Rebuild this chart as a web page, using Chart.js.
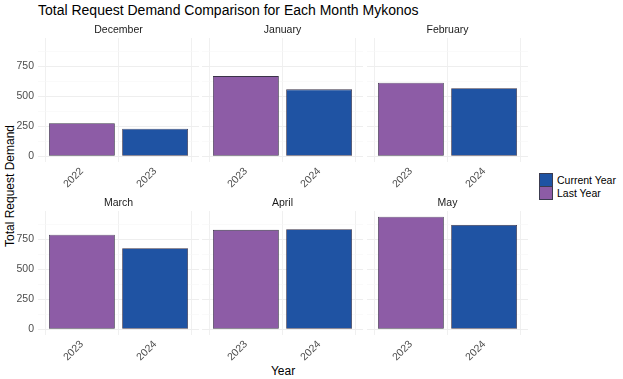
<!DOCTYPE html>
<html>
<head>
<meta charset="utf-8">
<script src="https://cdn.jsdelivr.net/npm/chart.js@4.4.1/dist/chart.umd.min.js"></script>
<style>
  body {
    margin: 0;
    width: 623px;
    height: 379px;
    overflow: hidden;
    position: relative;
    background: #fff;
    font-family: "Liberation Sans", Arial, sans-serif;
  }
  canvas { position: absolute; }
  #title {
    position: absolute;
    left: 38px;
    top: 2px;
    font-size: 14px;
    color: #000;
    white-space: nowrap;
  }
  #ytitle {
    position: absolute;
    left: 9.5px;
    top: 186px;
    transform: translate(-50%, -50%) rotate(-90deg);
    font-size: 12px;
    white-space: nowrap;
  }
  #xtitle {
    position: absolute;
    left: 283px;
    top: 371px;
    transform: translate(-50%, -50%);
    font-size: 12px;
  }
  #legend {
    position: absolute;
    left: 539px;
    top: 173px;
    font-size: 10.5px;
    color: #000;
  }
  .item { display: flex; align-items: center; height: 13px; }
  .key { width: 12px; height: 12px; border: 0.5px solid #3c3c50; margin-right: 4px; }
</style>
</head>
<body>
<div id="title">Total Request Demand Comparison for Each Month Mykonos</div>
<div id="ytitle">Total Request Demand</div>
<div id="xtitle">Year</div>
<div id="legend"></div>
<script>
// values
const months = ["December", "January", "February", "March", "April", "May"]
const lastYearLabels = ["2022", "2023", "2023", "2023", "2023", "2023"]
const currentYearLabels = ["2023", "2024", "2024", "2024", "2024", "2024"]
const lastYearDemand = [276, 667, 612, 786, 827, 937]
const currentYearDemand = [229, 557, 566, 675, 832, 868]
const yTicks = [0, 250, 500, 750]
const legendNames = ["Current Year", "Last Year"]

const LAST_COLOR = "#8d5ca6"
const CURRENT_COLOR = "#1f53a3"
const FONT = "'Liberation Sans', Arial, sans-serif"

// facet grid geometry
const panelLeft = [38, 202, 367]
const rowTop = [20, 193]
const panelWidth = 161

const maxValue = Math.max(...lastYearDemand, ...currentYearDemand)
const yMin = -0.05 * maxValue
const yMax = 1.05 * maxValue
const gridTicks = yTicks.flatMap(v => [v, v + 125])

function drawLegend() {
    const legend = document.querySelector("#legend")
    const colors = [CURRENT_COLOR, LAST_COLOR]
    legendNames.forEach((name, i) => {
        const item = document.createElement("div")
        item.classList.add("item")
        const key = document.createElement("div")
        key.classList.add("key")
        key.style.background = colors[i]
        const label = document.createElement("span")
        label.innerText = name
        item.append(key, label)
        legend.append(item)
    })
}

function drawPanel(i) {
    const col = i % 3
    const row = Math.floor(i / 3)
    const yAxisWidth = col === 0 ? 28 : 12
    const canvas = document.createElement("canvas")
    canvas.width = yAxisWidth + panelWidth + 10
    canvas.height = 172
    canvas.style.left = (panelLeft[col] - yAxisWidth) + "px"
    canvas.style.top = rowTop[row] + "px"
    document.body.append(canvas)

    const years = [lastYearLabels[i], currentYearLabels[i]]

    new Chart(canvas, {
        type: "bar",
        data: {
            datasets: [{
                data: [
                    { x: 1, y: lastYearDemand[i] },
                    { x: 2, y: currentYearDemand[i] }
                ],
                backgroundColor: [LAST_COLOR, CURRENT_COLOR],
                borderColor: "#3a3348",
                borderWidth: 0.8,
                borderSkipped: false,
                barPercentage: 0.9,
                categoryPercentage: 1
            }]
        },
        options: {
            responsive: false,
            animation: false,
            layout: { padding: { left: 0, right: 10, top: 0, bottom: 0 } },
            plugins: {
                legend: { display: false },
                tooltip: { enabled: false },
                title: {
                    display: true,
                    text: months[i],
                    fullSize: false,
                    color: "#1a1a1a",
                    font: { size: 10.5, family: FONT, weight: "normal" },
                    padding: { top: 4, bottom: 1.4 }
                }
            },
            scales: {
                x: {
                    type: "linear",
                    min: 0.4,
                    max: 2.6,
                    offset: false,
                    afterBuildTicks: s => { s.ticks = [{ value: 1 }, { value: 2 }] },
                    afterFit: s => { s.height = 30 },
                    border: { display: false },
                    grid: { color: "#f0f0f0", lineWidth: 1, drawTicks: false },
                    ticks: {
                        autoSkip: false,
                        minRotation: 45,
                        maxRotation: 45,
                        padding: 3,
                        color: "#4d4d4d",
                        font: { size: 10.5, family: FONT },
                        callback: (v, idx) => years[idx]
                    }
                },
                y: {
                    min: yMin,
                    max: yMax,
                    afterBuildTicks: s => { s.ticks = gridTicks.map(v => ({ value: v })) },
                    afterFit: s => { s.width = yAxisWidth },
                    border: { display: false },
                    grid: {
                        drawTicks: false,
                        color: c => c.tick && c.tick.value % 250 === 0 ? "#eeeeee" : "#f6f6f6",
                        lineWidth: c => c.tick && c.tick.value % 250 === 0 ? 1 : 0.6
                    },
                    ticks: {
                        display: col === 0,
                        padding: 4,
                        color: "#4d4d4d",
                        font: { size: 10.5, family: FONT },
                        callback: v => yTicks.includes(v) ? String(v) : ""
                    }
                }
            }
        }
    })
}

drawLegend()
months.forEach((m, i) => drawPanel(i))
</script>
</body>
</html>
